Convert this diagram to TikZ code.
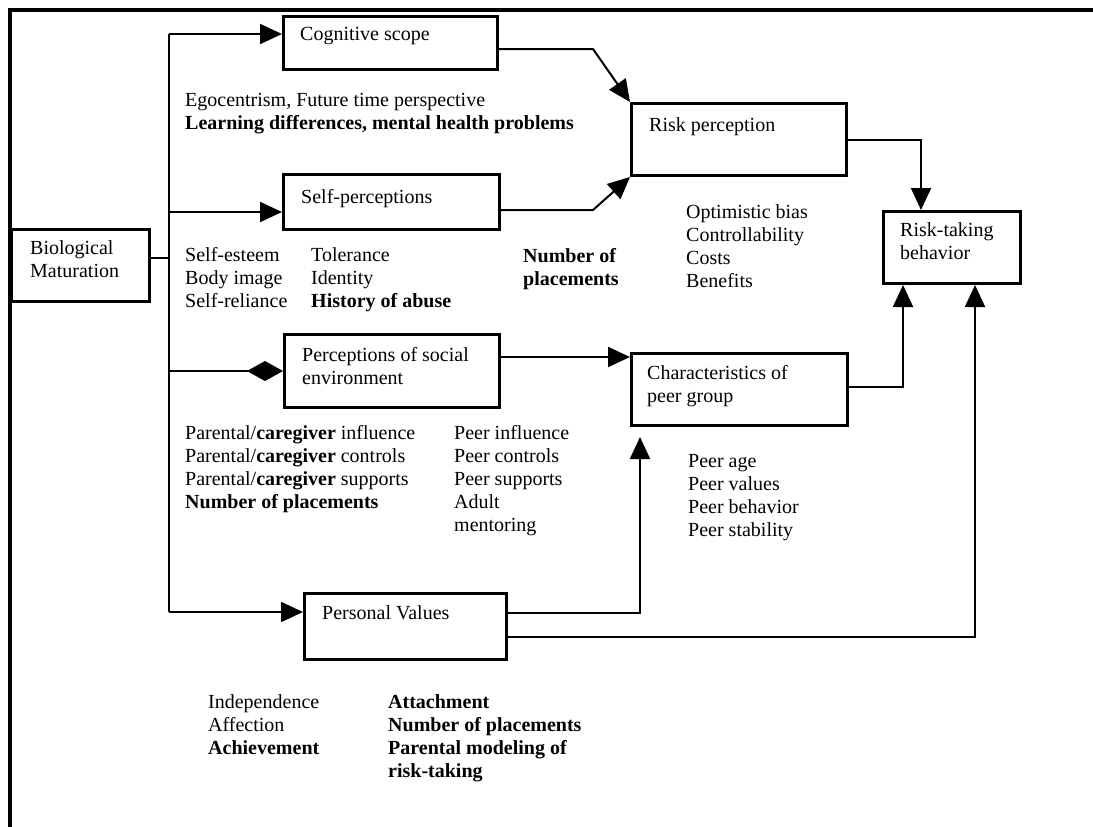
\documentclass[tikz,border=0pt]{standalone}
\usepackage{fontspec}
\setmainfont{Liberation Serif}
\usetikzlibrary{arrows.meta}
\tikzset{
  box/.style={draw, line width=3pt, anchor=north west, inner sep=0pt},
  txt/.style={anchor=north west, inner sep=0pt, align=left, font=\fontsize{20}{23}\selectfont},
  conn/.style={line width=2pt},
  arr/.style={line width=2pt, -{Triangle[length=22pt,width=20pt]}},
  dia/.style={line width=2pt, -{Diamond[length=36pt,width=20pt]}},
  frame/.style={line width=4pt}
}
\begin{document}
\begin{tikzpicture}[x=1pt,y=-1pt]
\useasboundingbox (0,0) rectangle (1093,827);
\fill[white] (0,0) rectangle (1093,827);
% frame
\draw[frame] (1093,10) -- (10,10) -- (10,827);
% boxes
\node[box, minimum width=138pt, minimum height=72pt] (bio) at (10,228) {};
\node[box, minimum width=214pt, minimum height=53pt] (cog) at (282,15) {};
\node[box, minimum width=216pt, minimum height=55pt] (selfp) at (282,173) {};
\node[box, minimum width=215pt, minimum height=72pt] (riskp) at (630,102) {};
\node[box, minimum width=137pt, minimum height=72pt] (rtb) at (882,210) {};
\node[box, minimum width=215pt, minimum height=73pt] (soc) at (283,333) {};
\node[box, minimum width=216pt, minimum height=72pt] (peer) at (630,352) {};
\node[box, minimum width=202pt, minimum height=66pt] (pv) at (303,592) {};
% box texts
\node[txt] (tcog) at (300,24) {\strut Cognitive scope};
\node[txt] (tselfp) at (301,187) {\strut Self-perceptions};
\node[txt] (tbio) at (30,238) {\strut Biological\\Maturation};
\node[txt] (triskp) at (649,115) {\strut Risk perception};
\node[txt] (trtb) at (900,220) {\strut Risk-taking\\behavior};
\node[txt] (tsoc) at (302,345) {\strut Perceptions of social\\environment};
\node[txt] (tpeer) at (647,363) {\strut Characteristics of\\peer group};
\node[txt] (tpv) at (322,603) {\strut Personal Values};
% lists
\node[txt] (lego) at (185,90) {\strut Egocentrism, Future time perspective\\\textbf{Learning differences, mental health problems}};
\node[txt] (lself) at (185,245) {\strut Self-esteem\\Body image\\Self-reliance};
\node[txt] (ltol) at (311,245) {\strut Tolerance\\Identity\\\textbf{History of abuse}};
\node[txt] (lnum) at (523,246) {\strut \textbf{Number of}\\\textbf{placements}};
\node[txt] (lopt) at (686,202) {\strut Optimistic bias\\Controllability\\Costs\\Benefits};
\node[txt] (lpar) at (185,423) {\strut Parental/\textbf{caregiver} influence\\Parental/\textbf{caregiver} controls\\Parental/\textbf{caregiver} supports\\\textbf{Number of placements}};
\node[txt] (lpinf) at (454,423) {\strut Peer influence\\Peer controls\\Peer supports\\Adult\\mentoring};
\node[txt] (lpage) at (688,451) {\strut Peer age\\Peer values\\Peer behavior\\Peer stability};
\node[txt] (lind) at (208,692) {\strut Independence\\Affection\\\textbf{Achievement}};
\node[txt] (latt) at (388,692) {\strut \textbf{Attachment}\\\textbf{Number of placements}\\\textbf{Parental modeling of}\\\textbf{risk-taking}};
% connectors
\coordinate (ttop) at (169,34);
\coordinate (tbot) at (169,612);
\coordinate (peerin) at (640,437);
\draw[conn] (ttop) -- (tbot);
\draw[conn] (bio.east |- 0,258) -- (ttop |- 0,258);
\draw[arr] (ttop) -- (cog.west |- ttop);
\draw[arr] (ttop |- 0,212) -- (selfp.west |- 0,212);
\draw[dia] (ttop |- soc.west) -- (soc.west);
\draw[arr] (tbot) -- (pv.west |- tbot);
\draw[arr] (cog.east |- 0,49) -- (593,49) -- (riskp.north west);
\draw[arr] (selfp.east |- 0,210) -- (593,210) -- (riskp.south west);
\draw[arr] (riskp.east |- 0,140) -| (rtb.north -| 921,0);
\draw[arr] (soc.east |- 0,357) -- (peer.west |- 0,357);
\draw[arr] (peer.east |- 0,387) -| (rtb.south -| 903,0);
\draw[arr] (pv.east |- 0,613) -| (peerin);
\draw[arr] (pv.east |- 0,637) -| (rtb.south -| 975,0);
\end{tikzpicture}
\end{document}
